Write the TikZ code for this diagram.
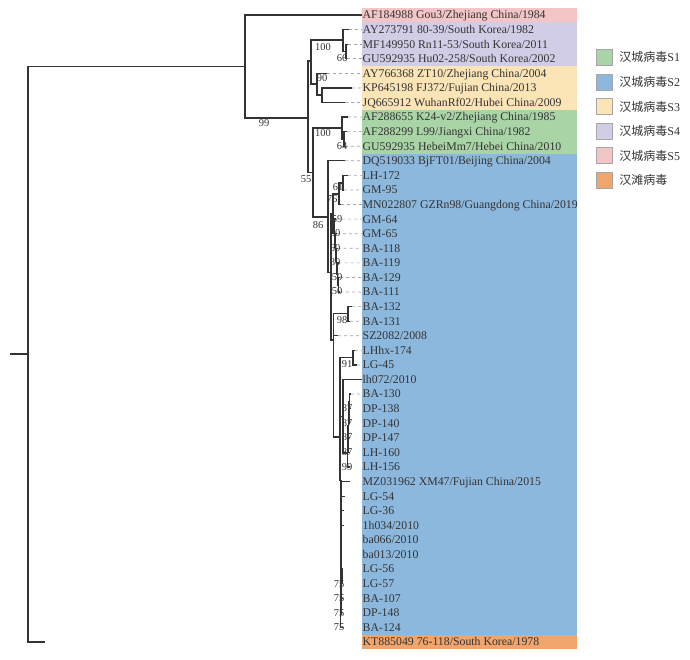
\documentclass[tikz,border=0pt]{standalone}
\usepackage{fontspec}
\setmainfont{Liberation Serif}
\newfontfamily\cjk{Noto Sans CJK SC}
\usepackage{xcolor}
\definecolor{Rose Band}{HTML}{F3C5C7}
\definecolor{Lavender Band}{HTML}{D1CDE6}
\definecolor{Sand Band}{HTML}{FBE5B6}
\definecolor{Sage Band}{HTML}{A9D4A6}
\definecolor{Sky Band}{HTML}{8DB8DE}
\definecolor{Apricot Band}{HTML}{EFA56C}
\definecolor{Ink}{HTML}{333333}
\definecolor{Guide}{HTML}{A3A3A3}
\colorlet{cS1}{Sage Band}
\colorlet{cS2}{Sky Band}
\colorlet{cS3}{Sand Band}
\colorlet{cS4}{Lavender Band}
\colorlet{cS5}{Rose Band}
\colorlet{cHT}{Apricot Band}
\usepackage{tikz}
\usetikzlibrary{positioning}
\tikzset{
	node distance = 6pt,
	line width = 1.2pt,
	branch/.style={
		draw=Ink,
		line width=1.3pt
	},
	guide/.style={
		draw=Guide,
		line width=.7pt,
		dash pattern=on 3pt off 3pt
	},
	taxon/.style={
		anchor=west,
		inner sep=.5pt,
		text height=7.8pt,
		text depth=0pt,
		text=Ink,
		font=\fontsize{11.8}{12}\selectfont
	},
	boot/.style={
		inner sep=0pt,
		text=Ink,
		font=\fontsize{10.5}{11}\selectfont
	},
	key/.style={
		draw=gray!70,
		line width=.5pt,
		minimum size=16pt,
		inner sep=0pt
	},
	keytext/.style={
		inner sep=1pt,
		text=Ink,
		font=\fontsize{12}{13}\selectfont
	}
}

\begin{document}
\begin{tikzpicture}[x=1pt, y=-1pt]
		\useasboundingbox (0,0) rectangle (690,659);

		\fill[cS5] (362,7.71) rectangle (577,22.29);
		\fill[cS4] (362,22.29) rectangle (577,66.03);
		\fill[cS3] (362,66.03) rectangle (577,109.77);
		\fill[cS1] (362,109.77) rectangle (577,153.51);
		\fill[cS2] (362,153.51) rectangle (577,634.65);
		\fill[cHT] (362,634.65) rectangle (577,649.23);

		\node[taxon] (n1) at (362,15) {AF184988 Gou3/Zhejiang China/1984};
		\node[taxon] (n2) at (362,29.58) {AY273791 80-39/South Korea/1982};
		\node[taxon] (n3) at (362,44.16) {MF149950 Rn11-53/South Korea/2011};
		\node[taxon] (n4) at (362,58.74) {GU592935 Hu02-258/South Korea/2002};
		\node[taxon] (n5) at (362,73.32) {AY766368 ZT10/Zhejiang China/2004};
		\node[taxon] (n6) at (362,87.9) {KP645198 FJ372/Fujian China/2013};
		\node[taxon] (n7) at (362,102.48) {JQ665912 WuhanRf02/Hubei China/2009};
		\node[taxon] (n8) at (362,117.06) {AF288655 K24-v2/Zhejiang China/1985};
		\node[taxon] (n9) at (362,131.64) {AF288299 L99/Jiangxi China/1982};
		\node[taxon] (n10) at (362,146.22) {GU592935 HebeiMm7/Hebei China/2010};
		\node[taxon] (n11) at (362,160.8) {DQ519033 BjFT01/Beijing China/2004};
		\node[taxon] (n12) at (362,175.38) {LH-172};
		\node[taxon] (n13) at (362,189.96) {GM-95};
		\node[taxon] (n14) at (362,204.54) {MN022807 GZRn98/Guangdong China/2019};
		\node[taxon] (n15) at (362,219.12) {GM-64};
		\node[taxon] (n16) at (362,233.7) {GM-65};
		\node[taxon] (n17) at (362,248.28) {BA-118};
		\node[taxon] (n18) at (362,262.86) {BA-119};
		\node[taxon] (n19) at (362,277.44) {BA-129};
		\node[taxon] (n20) at (362,292.02) {BA-111};
		\node[taxon] (n21) at (362,306.6) {BA-132};
		\node[taxon] (n22) at (362,321.18) {BA-131};
		\node[taxon] (n23) at (362,335.76) {SZ2082/2008};
		\node[taxon] (n24) at (362,350.34) {LHhx-174};
		\node[taxon] (n25) at (362,364.92) {LG-45};
		\node[taxon] (n26) at (362,379.5) {lh072/2010};
		\node[taxon] (n27) at (362,394.08) {BA-130};
		\node[taxon] (n28) at (362,408.66) {DP-138};
		\node[taxon] (n29) at (362,423.24) {DP-140};
		\node[taxon] (n30) at (362,437.82) {DP-147};
		\node[taxon] (n31) at (362,452.4) {LH-160};
		\node[taxon] (n32) at (362,466.98) {LH-156};
		\node[taxon] (n33) at (362,481.56) {MZ031962 XM47/Fujian China/2015};
		\node[taxon] (n34) at (362,496.14) {LG-54};
		\node[taxon] (n35) at (362,510.72) {LG-36};
		\node[taxon] (n36) at (362,525.3) {1h034/2010};
		\node[taxon] (n37) at (362,539.88) {ba066/2010};
		\node[taxon] (n38) at (362,554.46) {ba013/2010};
		\node[taxon] (n39) at (362,569.04) {LG-56};
		\node[taxon] (n40) at (362,583.62) {LG-57};
		\node[taxon] (n41) at (362,598.2) {BA-107};
		\node[taxon] (n42) at (362,612.78) {DP-148};
		\node[taxon] (n43) at (362,627.36) {BA-124};
		\node[taxon] (n44) at (362,641.94) {KT885049 76-118/South Korea/1978};

		% branch tips
		\foreach \i/\x in {1/362, 2/349, 3/348, 4/347, 5/327, 6/352, 7/345, 8/348, 9/347, 10/345,
				11/345, 12/348, 13/344, 14/341, 15/336, 16/337, 17/337.5, 18/338.5, 19/340, 20/340,
				21/352, 22/350, 23/338, 24/355, 25/357, 26/362, 27/351, 28/350, 29/350, 30/350,
				31/350, 32/350, 33/350, 34/345, 35/344, 36/344, 37/341.5, 38/341.5, 39/343, 40/343,
				41/343, 42/343, 43/343, 44/45}
			\coordinate (t\i) at (\x,{15+14.58*(\i-1)});

		% inner nodes
		\coordinate (r0) at (10,354);
		\coordinate (r) at (28,354);
		\coordinate (top) at (245,66.5);
		\coordinate (a) at (308,118);
		\coordinate (py) at (311,61);
		\coordinate (p) at (343,40);
		\coordinate (p2) at (346,51.5);
		\coordinate (y) at (317,84);
		\coordinate (y2) at (322,95);
		\coordinate (b) at (313,172.5);
		\coordinate (g) at (342,128);
		\coordinate (g2) at (344,139);
		\coordinate (d) at (328,217);
		\coordinate (e) at (331,272.5);
		\coordinate (f) at (333,214);
		\coordinate (l2) at (339,194);
		\coordinate (l1) at (343,183);
		\coordinate (z1) at (334.5,233.5);
		\coordinate (z2) at (335.5,247.7);
		\coordinate (z3) at (336.5,261.3);
		\coordinate (z4) at (337.5,274);
		\coordinate (z5) at (338.5,285);
		\coordinate (h) at (333.5,340);
		\coordinate (k1) at (348,313.5);
		\coordinate (j) at (340,437);
		\coordinate (k2) at (353,357.3);
		\coordinate (r1) at (343,416.3);
		\coordinate (q5) at (347.5,453);
		\coordinate (q4) at (348,438.9);
		\coordinate (q3) at (348.5,425.2);
		\coordinate (q2) at (349,412.5);
		\coordinate (q1) at (349.5,401.5);
		\coordinate (w) at (341,480);
		\coordinate (v4) at (340.5,614.3);
		\coordinate (v3) at (341,600.6);
		\coordinate (v2) at (341.5,587.8);
		\coordinate (v1) at (342,576.9);

		\draw[branch] (r0) -- (r);
		\foreach \p/\c in {r/top, r/t44, top/t1, top/a, a/py, a/b, py/p, py/y, p/t2, p/p2, p2/t3, p2/t4,
				y/t5, y/y2, y2/t6, y2/t7, b/g, b/d, g/t8, g/g2, g2/t9, g2/t10, d/t11, d/e, e/f, e/h,
				f/l2, f/z1, l2/l1, l2/t14, l1/t12, l1/t13, z1/t15, z1/z2, z2/t16, z2/z3, z3/t17, z3/z4,
				z4/t18, z4/z5, z5/t19, z5/t20, h/k1, h/t23, h/j, k1/t21, k1/t22, j/k2, j/r1, j/w,
				k2/t24, k2/t25, r1/t26, r1/q5, q5/q4, q5/t32, q4/q3, q4/t31, q3/q2, q3/t30, q2/q1, q2/t29,
				q1/t27, q1/t28, w/t33, w/t34, w/t35, w/t36, w/t37, w/t38, w/v4, v4/v3, v4/t43,
				v3/v2, v3/t42, v2/v1, v2/t41, v1/t39, v1/t40}
			\draw[branch] (\p) |- (\c);

		\foreach \i in {2,...,25,27,...,44}
			\draw[guide] (t\i) -- (n\i.west);

		% bootstrap values
		\foreach \x/\y/\v [count=\k] in {323/47/100, 342/58/66, 322/78/90, 264/123/99, 323/133/100,
				342/146/64, 306/179/55, 318/225/86, 338/187.5/61, 332/199/76, 337/219/59, 335/233/60,
				335/248/60, 335/262/80, 337/277/50, 337/291/50, 342/320/98, 347/364/91, 347/408/87,
				347/423/87, 347/437/87, 347/452/87, 347/467/99, 339/584/75, 339/598/75, 339/613/75,
				339/627/75}
			\node[boot] (bs\k) at (\x,\y) {\v};

		\node[key, fill=cS1] (key1) at (604,57) {};
		\node[key, fill=cS2] (key2) at (604,82) {};
		\node[key, fill=cS3] (key3) at (604,106.5) {};
		\node[key, fill=cS4] (key4) at (604,131) {};
		\node[key, fill=cS5] (key5) at (604,155.5) {};
		\node[key, fill=cHT] (key6) at (604,180) {};
		\node[keytext, right=of key1] {{\cjk 汉城病毒}S1};
		\node[keytext, right=of key2] {{\cjk 汉城病毒}S2};
		\node[keytext, right=of key3] {{\cjk 汉城病毒}S3};
		\node[keytext, right=of key4] {{\cjk 汉城病毒}S4};
		\node[keytext, right=of key5] {{\cjk 汉城病毒}S5};
		\node[keytext, right=of key6] {{\cjk 汉滩病毒}};
	\end{tikzpicture}
\end{document}
